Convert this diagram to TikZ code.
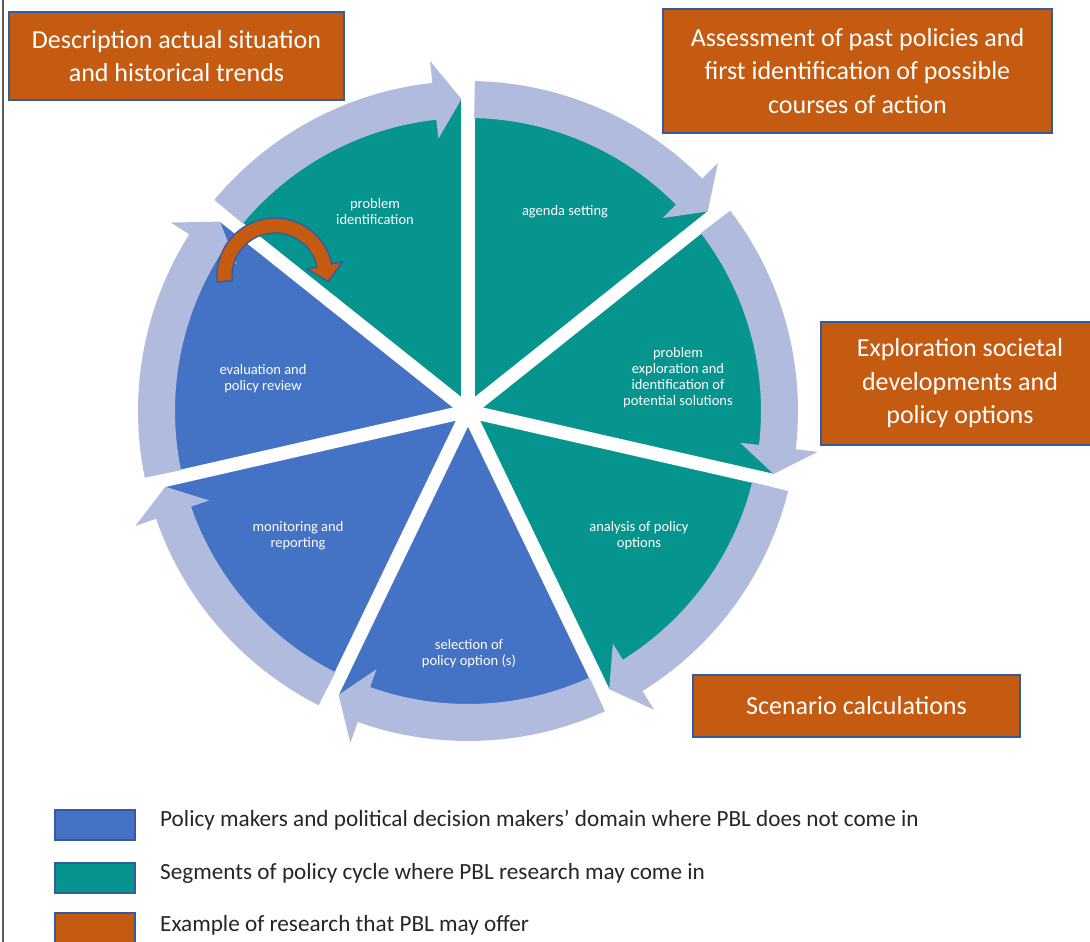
\documentclass[tikz,border=0pt]{standalone}
\usepackage{fontspec}
\setmainfont{Carlito}
\definecolor{tealc}{RGB}{6,148,142}
\definecolor{bluec}{RGB}{68,114,196}
\definecolor{ringc}{RGB}{176,187,222}
\definecolor{orangec}{RGB}{197,90,17}
\definecolor{edgec}{RGB}{52,90,160}
\newcommand\gapang{1.2}
\newcommand\headang{5}
\newcommand\segang{51.4286}
\newcommand\sector[2]{%
  \pgfmathsetmacro\secEnd{#1-\segang}%
  \fill[#2] (0,0) -- (#1:312pt) arc[start angle=#1, end angle=\secEnd, radius=312pt] -- cycle;}
\newcommand\ringarrow[1]{%
  \pgfmathsetmacro\raTail{#1-\gapang}%
  \pgfmathsetmacro\raTip{#1-\segang+\gapang}%
  \pgfmathsetmacro\raBase{\raTip+\headang}%
  \fill[ringc] (\raTail:293pt) arc[start angle=\raTail, end angle=\raBase, radius=293pt]
    -- (\raBase:274pt) -- (\raTip:312pt) -- (\raBase:352pt) -- (\raBase:330pt)
    arc[start angle=\raBase, end angle=\raTail, radius=330pt] -- cycle;}
\begin{document}
\begin{tikzpicture}[x=1pt,y=1pt,
  seglabel/.style={font=\fontsize{14.5}{16}\selectfont, text=white, align=center},
  obox/.style={fill=orangec, draw=edgec, line width=1.8pt, text=white, align=center,
    font=\fontsize{26}{33.5}\selectfont, inner sep=0pt},
  legbox/.style={fill=#1, draw=edgec, line width=1.8pt},
  legtext/.style={anchor=west, font=\fontsize{23.2}{27}\selectfont, text=black!85, inner sep=0pt}]

\useasboundingbox (0,0) rectangle (1090,942);
\fill[white] (0,0) rectangle (1090,942);
\draw[black!65, line width=1.2pt] (3,0) -- (3,942);

% pie cycle
\begin{scope}[shift={(468,531)}]
  \sector{90}{tealc}
  \sector{38.5714}{tealc}
  \sector{-12.8571}{tealc}
  \sector{-64.2857}{bluec}
  \sector{-115.7143}{bluec}
  \sector{-167.1429}{bluec}
  \sector{141.4286}{tealc}
  \foreach \a in {90,38.5714,-12.8571,-64.2857,-115.7143,-167.1429,141.4286}
    {\draw[white, line width=13.5pt] (0,0) -- (\a:314pt);}
  \foreach \a in {90,38.5714,-12.8571,-64.2857,-115.7143,-167.1429,141.4286}
    {\ringarrow{\a}}
\end{scope}

% orange curved arrow
\begin{scope}[shift={(275,666)}]
  \filldraw[fill=orangec, draw=edgec, line width=1.3pt, line join=miter]
    (186:43pt) arc[start angle=186, end angle=12, radius=43pt]
    -- (12:33pt) -- (53.2pt,-5.5pt) -- (12:69pt) -- (12:58pt)
    arc[start angle=12, end angle=186, radius=58pt] -- cycle;
\end{scope}

% segment labels
\node[seglabel] (pid) at (375,730) {problem\\identification};
\node[seglabel] (ags) at (565,730) {agenda setting};
\node[seglabel] (pex) at (678,564) {problem\\exploration and\\identification of\\potential solutions};
\node[seglabel] (apo) at (639,406) {analysis of policy\\options};
\node[seglabel] (spo) at (469,288) {selection of\\policy option (s)};
\node[seglabel] (mor) at (298,406) {monitoring and\\reporting};
\node[seglabel] (epr) at (263,563) {evaluation and\\policy review};

% orange boxes
\node[obox, minimum width=335pt, minimum height=88pt] (b1) at (176.5,886)
  {Description actual situation\\and historical trends};
\node[obox, minimum width=389pt, minimum height=124pt] (b2) at (857.5,871)
  {Assessment of past policies and\\first identification of possible\\courses of action};
\node[obox, minimum width=278pt, minimum height=123pt] (b3) at (960,558.5)
  {Exploration societal\\developments and\\policy options};
\node[obox, minimum width=327pt, minimum height=62pt] (b4) at (856.5,236)
  {Scenario calculations};

% legend
\node[legbox=bluec, minimum width=80pt, minimum height=30pt, inner sep=0pt] (l1) at (95,117) {};
\node[legbox=tealc, minimum width=80pt, minimum height=30pt, inner sep=0pt] (l2) at (95,64) {};
\node[legbox=orangec, minimum width=80pt, minimum height=32pt, inner sep=0pt] (l3) at (95,13) {};
\node[legtext] (t1) at (160,122) {Policy makers and political decision makers’ domain where PBL does not come in};
\node[legtext] (t2) at (160,69) {Segments of policy cycle where PBL research may come in};
\node[legtext] (t3) at (160,17) {Example of research that PBL may offer};
\end{tikzpicture}
\end{document}
